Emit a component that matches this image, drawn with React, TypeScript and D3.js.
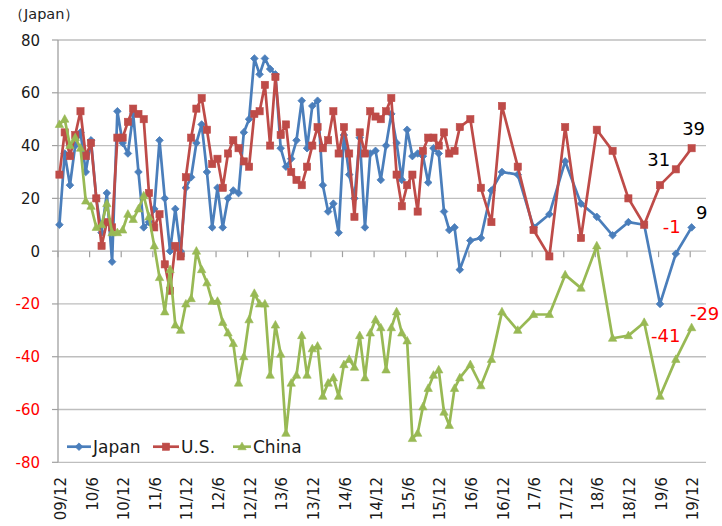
import React from "react";
import * as d3 from "d3";

const dates = [
  "2009-12",
  "2010-01","2010-02","2010-03","2010-04","2010-05","2010-06","2010-07","2010-08","2010-09","2010-10","2010-11","2010-12",
  "2011-01","2011-02","2011-03","2011-04","2011-05","2011-06","2011-07","2011-08","2011-09","2011-10","2011-11","2011-12",
  "2012-01","2012-02","2012-03","2012-04","2012-05","2012-06","2012-07","2012-08","2012-09","2012-10","2012-11","2012-12",
  "2013-01","2013-02","2013-03","2013-04","2013-05","2013-06","2013-07","2013-08","2013-09","2013-10","2013-11","2013-12",
  "2014-01","2014-02","2014-03","2014-04","2014-05","2014-06","2014-07","2014-08","2014-09","2014-10","2014-11","2014-12",
  "2015-01","2015-02","2015-03","2015-04","2015-05","2015-06","2015-07","2015-08","2015-09","2015-10","2015-11","2015-12",
  "2016-01","2016-02","2016-03","2016-04","2016-06","2016-08","2016-10","2016-12",
  "2017-03","2017-06","2017-09","2017-12","2018-03","2018-06","2018-09","2018-12",
  "2019-03","2019-06","2019-09","2019-12",
];

const japan = [
  10, 37, 25, 40, 45, 30, 42, 20, 7, 22, -4, 53, 41,
  37, 52, 30, 9, 11, 16, 42, 20, 0, 16, 0, 24,
  28, 41, 48, 30, 9, 24, 9, 20, 23, 22, 45, 50,
  73, 67, 73, 69, 67, 39, 32, 35, 42, 57, 39, 55,
  57, 25, 15, 18, 7, 44, 29, 20, 43, 9, 37, 38,
  27, 40, 52, 41, 27, 46, 36, 37, 36, 26, 39, 37,
  15, 8, 9, -7, 4, 5, 23, 30,
  29, 9, 14, 34, 18, 13, 6, 11, 10, -20, -1, 9,
];

const us = [
  29, 45, 36, 44, 53, 36, 41, 20, 2, 11, 9, 43, 43,
  49, 54, 52, 50, 22, 9, 14, -5, -15, 2, -2, 28,
  43, 54, 58, 46, 33, 35, 24, 37, 42, 39, 34, 32,
  52, 53, 63, 40, 66, 44, 48, 30, 27, 25, 32, 40,
  47, 39, 42, 53, 37, 47, 37, 13, 45, 37, 53, 51,
  50, 53, 58, 29, 17, 25, 29, 15, 38, 43, 43, 40,
  45, 37, 38, 47, 50, 24, 11, 55,
  32, 8, -2, 47, 5, 46, 38, 20, 10, 25, 31, 39,
];

const china = [
  48, 50, 40, 43, 39, 19, 17, 9, 10, 18, 7, 7, 8,
  14, 12, 16, 21, 13, 2, -10, -23, -7, -28, -30, -20,
  -18, 0, -7, -12, -19, -19, -27, -31, -35, -50, -40, -26,
  -16, -20, -20, -47, -28, -39, -69, -50, -47, -32, -47, -37,
  -36, -55, -50, -48, -55, -43, -41, -44, -32, -48, -31, -26,
  -29, -45, -29, -23, -31, -34, -71, -69, -59, -52, -47, -45,
  -61, -66, -52, -48, -43, -51, -41, -23,
  -30, -24, -24, -9, -14, 2, -33, -32, -27, -55, -41, -29,
];

const seriesNames = ["Japan", "U.S.", "China"];
const yTicks = [-80, -60, -40, -20, 0, 20, 40, 60, 80];
const xTickLabels = [
  "09/12", "10/6", "10/12", "11/6", "11/12", "12/6", "12/12", "13/6", "13/12", "14/6", "14/12",
  "15/6", "15/12", "16/6", "16/12", "17/6", "17/12", "18/6", "18/12", "19/6", "19/12",
];
const axisTitle = "（Japan）";

const FONT = "'DejaVu Sans', sans-serif";
const COLORS = ["#4A7EBB", "#BE4B48", "#98B954"];

function monthOfDate(s: string) {
  const [y, m] = s.split("-").map(Number);
  return (y - 2009) * 12 + (m - 12);
}
function monthOfLabel(s: string) {
  const [y, m] = s.split("/").map(Number);
  return (2000 + y - 2009) * 12 + (m - 12);
}

function Marker({ kind, x, y, color }: { kind: number; x: number; y: number; color: string }) {
  if (kind === 0) {
    const r = 3.8;
    return <path d={`M${x},${y - r}L${x + r},${y}L${x},${y + r}L${x - r},${y}Z`} fill={color} stroke={color} strokeWidth={0.8} />;
  }
  if (kind === 1) {
    const s = 7.2;
    return <rect x={x - s / 2} y={y - s / 2} width={s} height={s} fill={color} stroke={color} strokeWidth={0.6} />;
  }
  const w = 8.4, h = 7.6;
  return <path d={`M${x},${y - h * 0.6}L${x + w / 2},${y + h * 0.4}L${x - w / 2},${y + h * 0.4}Z`} fill={color} stroke={color} strokeWidth={0.6} />;
}

export default function App() {
  const left = 58, right = 706, top = 40, bottom = 462.3;
  const x = d3.scaleLinear().domain([0, 123]).range([left, right]);
  const y = d3.scaleLinear().domain([-80, 80]).range([bottom, top]);
  const months = dates.map(monthOfDate);
  const all = [japan, us, china];
  const line = d3
    .line<number>()
    .x((_, i) => x(months[i] + 0.27))
    .y((d) => y(d));

  const y0 = y(0);
  const n = dates.length;

  // end labels: [series, index, dx, dy, color]
  const endLabels: [number, number, number, number, string][] = [
    [0, n - 1, 10, -8, "#000"],
    [0, n - 2, -4, -21, "#FF0000"],
    [1, n - 2, -17, -3, "#000"],
    [1, n - 1, 2, -13, "#000"],
    [2, n - 2, -10, -17, "#FF0000"],
    [2, n - 1, 13, -8, "#FF0000"],
  ];

  const legendItems = [
    { x1: 67, x2: 91, tx: 93 },
    { x1: 153, x2: 179, tx: 181 },
    { x1: 233, x2: 251, tx: 253 },
  ];
  const ly = 446.7;

  return (
    <svg width={722} height={526} style={{ position: "absolute", left: 0, top: 0, background: "#fff" }} fontFamily={FONT}>
      <rect x={0} y={0} width={722} height={526} fill="#fff" />
      <text x={9} y={19} fontSize={14.5} fill="#222">{axisTitle}</text>
      {yTicks.map((t) => (
        <g key={t}>
          <line x1={left} x2={right} y1={y(t)} y2={y(t)} stroke="#BEBEBE" strokeWidth={1.3} />
          <line x1={left - 6} x2={left} y1={y(t)} y2={y(t)} stroke="#A0A0A0" strokeWidth={1.2} />
          <text x={40} y={y(t) + 5.5} textAnchor="end" fontSize={15} fill={t < 0 ? "#FF0000" : "#1a1a1a"}>
            {t}
          </text>
        </g>
      ))}
      <line x1={left} x2={left} y1={top} y2={bottom} stroke="#A0A0A0" strokeWidth={1.3} />
      {xTickLabels.map((lab) => {
        const m = monthOfLabel(lab);
        const cx = x(m + 0.5);
        return (
          <g key={lab}>
            <line x1={x(m)} x2={x(m)} y1={y0} y2={y0 + 6} stroke="#A0A0A0" strokeWidth={1.2} />
            <text transform={`translate(${cx + 5.4},477) rotate(-90)`} textAnchor="end" fontSize={15} fill="#1a1a1a">
              {lab}
            </text>
          </g>
        );
      })}
      {all.map((vals, si) => (
        <g key={si}>
          <path d={line(vals) || ""} fill="none" stroke={COLORS[si]} strokeWidth={2.7} strokeLinejoin="round" />
          {vals.map((v, i) => (
            <Marker key={i} kind={si} x={x(months[i] + 0.27)} y={y(v)} color={COLORS[si]} />
          ))}
        </g>
      ))}
      {endLabels.map(([si, i, dx, dy, c], k) => (
        <text key={k} x={x(months[i] + 0.27) + dx} y={y(all[si][i]) + dy} textAnchor="middle" fontSize={18} fill={c}>
          {all[si][i]}
        </text>
      ))}
      {legendItems.map((it, si) => (
        <g key={si}>
          <line x1={it.x1} x2={it.x2} y1={ly} y2={ly} stroke={COLORS[si]} strokeWidth={2.7} />
          <Marker kind={si} x={(it.x1 + it.x2) / 2} y={ly} color={COLORS[si]} />
          <text x={it.tx} y={ly + 6} fontSize={17} fill="#1a1a1a">
            {seriesNames[si]}
          </text>
        </g>
      ))}
    </svg>
  );
}
